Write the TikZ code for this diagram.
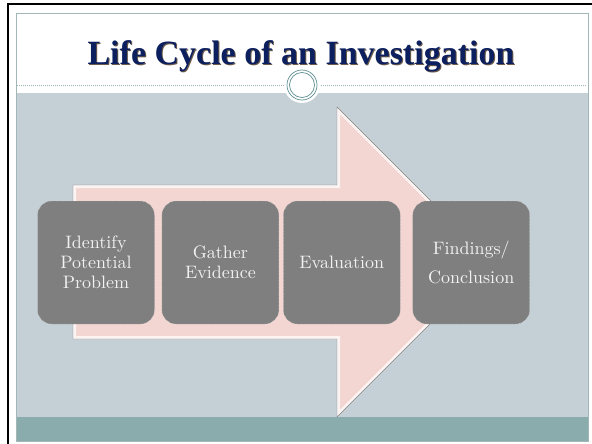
\documentclass[tikz,border=0pt]{standalone}
\usepackage{fontspec}
\newfontfamily\titlefont{Liberation Serif}
\newfontfamily\stagefont{lmroman10-regular}[Extension=.otf]
\usetikzlibrary{positioning}
\definecolor{slidebg}{HTML}{C5D0D6}
\definecolor{barteal}{HTML}{8AACAC}
\definecolor{slideline}{HTML}{A3B7B7}
\definecolor{ruleteal}{HTML}{9DB5B8}
\definecolor{ringteal}{HTML}{5F8F92}
\definecolor{titlenavy}{HTML}{0C1F5E}
\definecolor{titleshadow}{HTML}{6E5C4A}
\definecolor{arrowpink}{HTML}{F3D5D1}
\definecolor{boxgray}{HTML}{7F7F7F}
\definecolor{boxtext}{HTML}{F2F2F2}

\begin{document}
\begin{tikzpicture}[x=1pt,y=-1pt,node distance=7pt,semithick]
\tikzstyle{stage}=[draw=white!80!boxgray,densely dotted,thin,fill=boxgray,rounded corners=14pt,
  minimum width=117pt,minimum height=123pt,inner sep=2pt,align=center,text=boxtext,
  font=\stagefont\fontsize{18}{20}\selectfont]
\tikzstyle{heading}=[anchor=base,font=\titlefont\bfseries\fontsize{34}{40}\selectfont]
\useasboundingbox (0,0) rectangle (592,444);

% slide and frame
\fill[white] (16,13) rectangle (588,441);
\fill[slidebg] (16,93) rectangle (588,417);
\fill[barteal] (16,417) rectangle (588,441);
\draw[slideline,thin] (16,13) rectangle (588,441);
\draw[black,line width=2pt] (8,444) -- (8,4) -- (592,4);

% title and rule
\node[heading,text=titleshadow] at (302,66) {Life Cycle of an Investigation};
\node[heading,text=titlenavy] (title) at (301,65) {Life Cycle of an Investigation};
\draw[ruleteal,densely dotted,line width=1pt] (17,86) -- (587,86);
\fill[white] (302,85) circle (18pt);
\draw[ringteal,line width=.7pt] (302,85) circle (15pt) (302,85) circle (12.5pt);

% big arrow
\def\arrowpath{(73,185) -- (337,185) -- (337,107) -- (492,262) -- (337,417) -- (337,339) -- (73,339) -- cycle}
\fill[arrowpink] \arrowpath;
\begin{scope}
  \clip \arrowpath;
  \draw[white,line width=6pt,opacity=.75] \arrowpath;
\end{scope}
\draw[gray,thin] \arrowpath;

% stages
\node[stage] (identify) at (96,262.5) {Identify\\Potential\\Problem};
\node[stage,right=7pt of identify] (gather) {Gather\\Evidence};
\node[stage,right=4pt of gather] (evaluate) {Evaluation};
\node[stage,right=12pt of evaluate] (findings) {Findings/\\[9pt]Conclusion};
\end{tikzpicture}
\end{document}
